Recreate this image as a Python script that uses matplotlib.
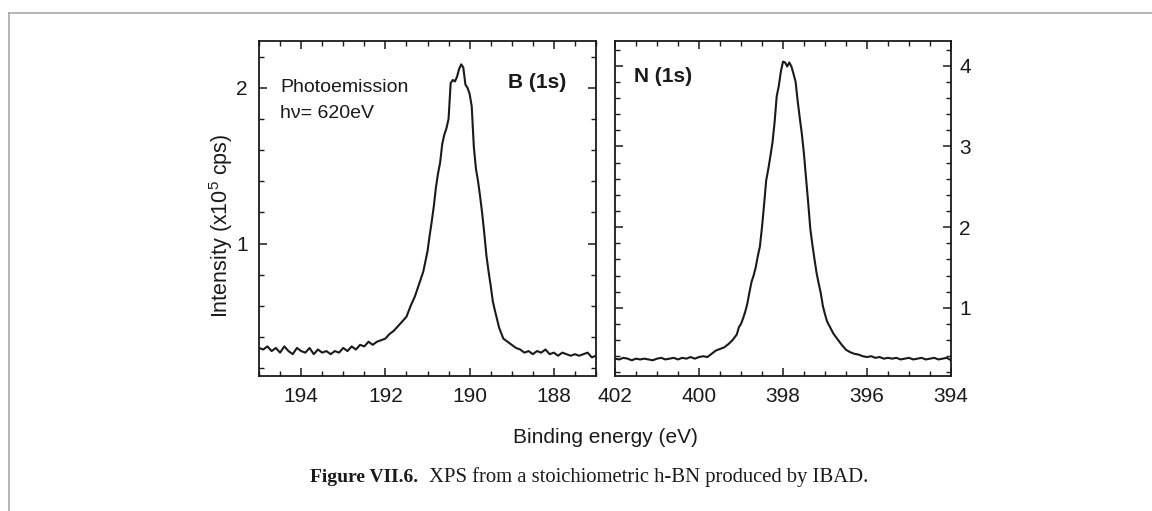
import numpy as np
import matplotlib
matplotlib.use('Agg')
import matplotlib.pyplot as plt
from matplotlib.ticker import MultipleLocator
from matplotlib.lines import Line2D

# B (1s) spectrum
b_energy = [195.0, 194.9, 194.8, 194.7, 194.6, 194.5, 194.4, 194.3, 194.2, 194.1,
            194.0, 193.9, 193.8, 193.7, 193.6, 193.5, 193.4, 193.3, 193.2, 193.1,
            193.0, 192.9, 192.8, 192.7, 192.6, 192.5, 192.4, 192.3, 192.2, 192.1,
            192.0, 191.9, 191.8, 191.7, 191.6, 191.5, 191.4, 191.3, 191.2, 191.1,
            191.0, 190.95, 190.9, 190.85, 190.8, 190.75, 190.7, 190.65, 190.6, 190.55,
            190.5, 190.45, 190.4, 190.35, 190.3, 190.25, 190.2, 190.15, 190.1, 190.05,
            190.0, 189.95, 189.9, 189.85, 189.8, 189.75, 189.7, 189.65, 189.6, 189.55,
            189.5, 189.45, 189.4, 189.3, 189.2, 189.1, 189.0, 188.9, 188.8, 188.7,
            188.6, 188.5, 188.4, 188.3, 188.2, 188.1, 188.0, 187.9, 187.8, 187.7,
            187.6, 187.5, 187.4, 187.3, 187.2, 187.1, 187.0]
b_counts = [0.33, 0.32, 0.34, 0.31, 0.33, 0.30, 0.34, 0.31, 0.29, 0.33,
            0.31, 0.30, 0.33, 0.29, 0.32, 0.30, 0.31, 0.29, 0.31, 0.30,
            0.33, 0.31, 0.34, 0.32, 0.35, 0.34, 0.37, 0.35, 0.37, 0.38,
            0.39, 0.42, 0.44, 0.47, 0.50, 0.53, 0.60, 0.66, 0.74, 0.82,
            0.95, 1.05, 1.14, 1.24, 1.36, 1.45, 1.52, 1.64, 1.70, 1.74,
            1.80, 2.03, 2.05, 2.04, 2.07, 2.12, 2.15, 2.13, 2.02, 2.00,
            1.96, 1.88, 1.62, 1.48, 1.40, 1.30, 1.19, 1.06, 0.92, 0.82,
            0.73, 0.63, 0.57, 0.46, 0.39, 0.37, 0.35, 0.33, 0.32, 0.30,
            0.31, 0.29, 0.31, 0.30, 0.32, 0.29, 0.30, 0.28, 0.30, 0.29,
            0.28, 0.29, 0.28, 0.29, 0.30, 0.27, 0.28]

# N (1s) spectrum
n_energy = [402.0, 401.9, 401.8, 401.7, 401.6, 401.5, 401.4, 401.3, 401.2, 401.1,
            401.0, 400.9, 400.8, 400.7, 400.6, 400.5, 400.4, 400.3, 400.2, 400.1,
            400.0, 399.9, 399.8, 399.7, 399.6, 399.5, 399.4, 399.3, 399.2, 399.1,
            399.05, 399.0, 398.95, 398.9, 398.85, 398.8, 398.75, 398.7, 398.65, 398.6,
            398.55, 398.5, 398.45, 398.4, 398.35, 398.3, 398.25, 398.2, 398.15, 398.1,
            398.05, 398.0, 397.95, 397.9, 397.85, 397.8, 397.75, 397.7, 397.65, 397.6,
            397.55, 397.5, 397.45, 397.4, 397.35, 397.3, 397.25, 397.2, 397.15, 397.1,
            397.05, 397.0, 396.95, 396.9, 396.8, 396.7, 396.6, 396.5, 396.4, 396.3,
            396.2, 396.1, 396.0, 395.9, 395.8, 395.7, 395.6, 395.5, 395.4, 395.3,
            395.2, 395.1, 395.0, 394.9, 394.8, 394.7, 394.6, 394.5, 394.4, 394.3,
            394.2, 394.1, 394.0]
n_counts = [0.37, 0.36, 0.38, 0.37, 0.35, 0.37, 0.36, 0.37, 0.36, 0.35,
            0.37, 0.38, 0.36, 0.37, 0.38, 0.36, 0.38, 0.37, 0.39, 0.37,
            0.39, 0.40, 0.39, 0.43, 0.47, 0.49, 0.51, 0.55, 0.60, 0.67,
            0.76, 0.80, 0.87, 0.95, 1.05, 1.19, 1.32, 1.40, 1.50, 1.64,
            1.76, 2.00, 2.28, 2.58, 2.72, 2.88, 3.05, 3.30, 3.62, 3.75,
            3.93, 4.05, 4.04, 3.99, 4.04, 3.99, 3.90, 3.80, 3.56, 3.35,
            3.15, 2.90, 2.60, 2.30, 1.98, 1.78, 1.60, 1.43, 1.30, 1.18,
            1.02, 0.92, 0.83, 0.78, 0.68, 0.61, 0.54, 0.48, 0.45, 0.43,
            0.42, 0.40, 0.39, 0.40, 0.38, 0.39, 0.37, 0.38, 0.37, 0.38,
            0.36, 0.37, 0.38, 0.36, 0.37, 0.38, 0.36, 0.37, 0.38, 0.36,
            0.37, 0.38, 0.35]

b_xlim = (195, 187)
n_xlim = (402, 394)
b_ylim = (0.15, 2.3)
n_ylim = (0.155, 4.306)

plt.rcParams['font.family'] = ['Liberation Sans', 'DejaVu Sans']
plt.rcParams['mathtext.fontset'] = 'custom'
plt.rcParams['mathtext.rm'] = 'Liberation Sans'
ink = '#1a1a1a'

W, H = 1152, 511
fig = plt.figure(figsize=(W / 100, H / 100), dpi=100)


def box(x0, x1, y0, y1):
    # pixel box (from top-left) -> figure fraction
    return [x0 / W, 1 - y1 / H, (x1 - x0) / W, (y1 - y0) / H]


ax1 = fig.add_axes(box(259, 596, 41, 376))
ax2 = fig.add_axes(box(615, 951, 41, 376))

ax1.plot(b_energy, b_counts, color=ink, lw=1.5)
ax2.plot(n_energy, n_counts, color=ink, lw=1.5)

ax1.set_xlim(*b_xlim)
ax1.set_ylim(*b_ylim)
ax2.set_xlim(*n_xlim)
ax2.set_ylim(*n_ylim)

for ax in (ax1, ax2):
    ax.xaxis.set_major_locator(MultipleLocator(2))
    ax.xaxis.set_minor_locator(MultipleLocator(0.5))
    ax.yaxis.set_major_locator(MultipleLocator(1))
    ax.yaxis.set_minor_locator(MultipleLocator(0.2))
    ax.tick_params(which='both', direction='in', top=True, bottom=True,
                   left=True, right=True, color=ink, labelcolor=ink,
                   labelsize=15)
    ax.tick_params(which='major', length=6, width=1.1)
    ax.tick_params(which='minor', length=3.5, width=1.0)
    ax.tick_params(axis='x', pad=8)
    for s in ax.spines.values():
        s.set_linewidth(1.3)
        s.set_color(ink)

ax1.tick_params(axis='y', pad=8)
ax2.tick_params(axis='y', labelleft=False, labelright=True, pad=6)

fig.text(280 / W, 1 - 87 / H, 'Photoemission', fontsize=14, color=ink,
         va='center', ha='left')
fig.text(280 / W, 1 - 113 / H, 'hν= 620eV', fontsize=14, color=ink,
         va='center', ha='left')
fig.text(537 / W, 1 - 82 / H, 'B (1s)', fontsize=15, fontweight='bold',
         color=ink, va='center', ha='center')
fig.text(663 / W, 1 - 77 / H, 'N (1s)', fontsize=15, fontweight='bold',
         color=ink, va='center', ha='center')

fig.text(221 / W, 1 - 226 / H, r'Intensity (x10$^{5}$ cps)', fontsize=15.5,
         color=ink, rotation=90, va='center', ha='center')
fig.text(605 / W, 1 - 437 / H, 'Binding energy (eV)', fontsize=15,
         color=ink, va='center', ha='center')

# caption: bold label + plain text
serif = ['Liberation Serif', 'DejaVu Serif']
cy = 1 - 477 / H
fig.text(418 / W, cy, 'Figure VII.6.', fontsize=14, fontweight='bold',
         family=serif, color=ink, va='center', ha='right')
fig.text(429 / W, cy, 'XPS from a stoichiometric h-BN produced by IBAD.',
         fontsize=14.9, family=serif, color=ink, va='center', ha='left')

# page frame
frame = '#a8a8a8'
fig.add_artist(Line2D([9 / W, 1], [1 - 13 / H] * 2, transform=fig.transFigure,
                      color=frame, lw=1.2))
fig.add_artist(Line2D([9 / W] * 2, [0, 1 - 13 / H], transform=fig.transFigure,
                      color=frame, lw=1.2))

fig.savefig('out.png', dpi=100)
